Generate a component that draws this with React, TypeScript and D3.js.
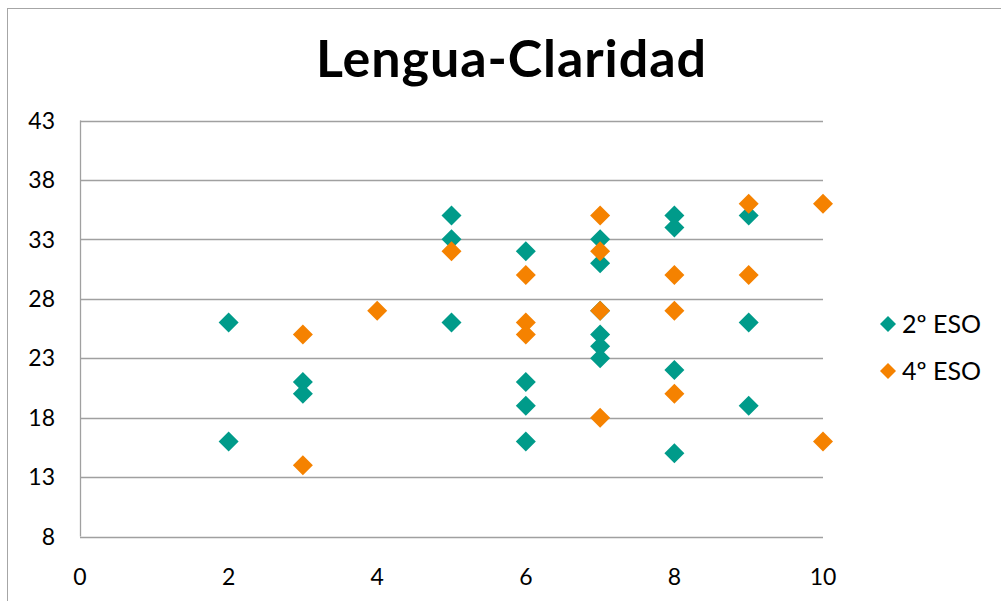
import React from "react";
import * as d3 from "d3";

const title = "Lengua-Claridad";
const xTicks = [0, 2, 4, 6, 8, 10];
const yTicks = [8, 13, 18, 23, 28, 33, 38, 43];

const s2x = [2, 2, 3, 3, 5, 5, 5, 6, 6, 6, 6, 7, 7, 7, 7, 7, 7, 8, 8, 8, 8, 9, 9, 9];
const s2y = [26, 16, 21, 20, 35, 33, 26, 32, 21, 19, 16, 33, 31, 25, 24, 23, 27, 35, 34, 22, 15, 35, 26, 19];

const s4x = [3, 3, 4, 5, 6, 6, 6, 7, 7, 7, 7, 8, 8, 8, 9, 9, 10, 10];
const s4y = [25, 14, 27, 32, 30, 26, 25, 35, 32, 27, 18, 30, 27, 20, 36, 30, 36, 16];

const seriesNames = ["2º ESO", "4º ESO"];
const colors = ["#009B8A", "#F58200"];

const FONT = "'Century Gothic', 'URW Gothic', Lato, 'DejaVu Sans', sans-serif";

export default function App() {
  const W = 1001, H = 601;
  const x = d3.scaleLinear().domain([0, 10]).range([80, 823]);
  const y = d3.scaleLinear().domain([8, 43]).range([536.5, 120.5]);
  const diamond = (cx: number, cy: number, r: number) =>
    `M${cx},${cy - r}L${cx + r},${cy}L${cx},${cy + r}L${cx - r},${cy}Z`;

  const series = [
    { xs: s2x, ys: s2y, color: colors[0] },
    { xs: s4x, ys: s4y, color: colors[1] },
  ];

  return (
    <svg width={W} height={H} style={{ position: "absolute", left: 0, top: 0, background: "#fff" }} fontFamily={FONT}>
      <rect x={7.5} y={8.5} width={W + 10} height={H + 10} fill="#fff" stroke="#A6A6A6" strokeWidth={1} />
      <text x={316} y={77} fontSize={52} fontWeight="bold" fill="#000" textLength={390} lengthAdjust="spacing">{title}</text>
      {yTicks.map((t) => (
        <g key={"y" + t}>
          <line x1={80} x2={823} y1={Math.round(y(t)) + 0.5} y2={Math.round(y(t)) + 0.5} stroke="#A0A0A0" strokeWidth={1.3} />
          <text x={55} y={y(t)} dy="0.36em" textAnchor="end" fontSize={23} fill="#000">{t}</text>
        </g>
      ))}
      <line x1={80.5} x2={80.5} y1={y(43)} y2={y(8)} stroke="#A0A0A0" strokeWidth={1.3} />
      {xTicks.map((t) => (
        <text key={"x" + t} x={x(t)} y={577} dy="0.36em" textAnchor="middle" fontSize={23} fill="#000">{t}</text>
      ))}
      {series.map((s, si) => (
        <g key={"s" + si}>
          {s.xs.map((xv, i) => (
            <path key={i} d={diamond(x(xv), y(s.ys[i]), 10)} fill={s.color} />
          ))}
        </g>
      ))}
      {seriesNames.map((n, i) => (
        <g key={"l" + i}>
          <path d={diamond(888, 324 + i * 47, 8)} fill={colors[i]} />
          <text x={902} y={324 + i * 47} dy="0.36em" fontSize={25} fill="#000">{n}</text>
        </g>
      ))}
    </svg>
  );
}
